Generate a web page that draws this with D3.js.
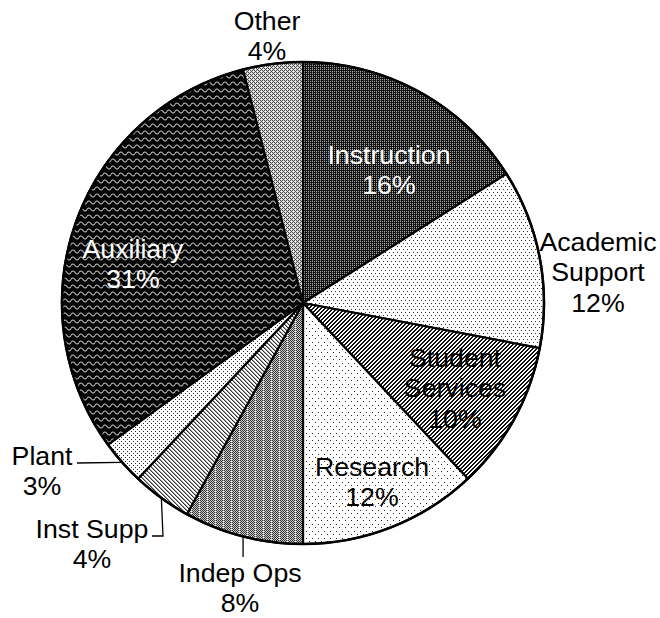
<!DOCTYPE html>
<html>
<head>
<meta charset="utf-8">
<script src="https://cdn.jsdelivr.net/npm/d3@7/dist/d3.min.js"></script>
<style>
  html, body { margin: 0; padding: 0; background: #fff; }
  svg { display: block; }
  text { font-family: "Liberation Sans", Arial, sans-serif; }
</style>
</head>
<body>
<svg id="chart" width="660" height="618"></svg>
<script>
// Expense categories, clockwise from 12 o'clock
const categories = ["Instruction", "Academic Support", "Student Services", "Research",
                    "Indep Ops", "Inst Supp", "Plant", "Auxiliary", "Other"];
// Share of total expenses, percent
const shares = [16, 12, 10, 12, 8, 4, 3, 31, 4];
// Label text lines for each slice
const labelNames = [["Instruction"], ["Academic", "Support"], ["Student", "Services"], ["Research"],
                    ["Indep Ops"], ["Inst Supp"], ["Plant"], ["Auxiliary"], ["Other"]];

const W = 660, H = 618;
const cx = 303, cy = 303, R = 241;
const fontSize = 26.7, lineH = 30.7;

const svg = d3.select("#chart");
const defs = svg.append("defs");

// Pixel tile patterns (monochrome fills)
function pixelPattern(id, w, h, bg, color, pixels) {
  const p = defs.append("pattern").attr("id", id)
    .attr("patternUnits", "userSpaceOnUse").attr("width", w).attr("height", h);
  p.append("rect").attr("width", w).attr("height", h).attr("fill", bg);
  pixels.forEach(([x, y, c]) => {
    p.append("rect").attr("x", x).attr("y", y).attr("width", 1).attr("height", 1)
      .attr("fill", c || color).attr("shape-rendering", "crispEdges");
  });
}

// Instruction: dark dotted weave
pixelPattern("pInstruction", 4, 4, "#111111", "#a8a8a8",
  [[1, 0], [3, 0], [1, 2], [3, 2], [1, 1, "#505050"]]);
// Academic Support: staggered dots
pixelPattern("pAcademic", 4, 6, "#ffffff", "#333333", [[0, 0], [2, 3]]);
// Student Services: wide "/" diagonal stripes
pixelPattern("pStudent", 4, 4, "#ffffff", "#111111",
  [[2, 0], [3, 0], [1, 1], [2, 1], [0, 2], [1, 2], [3, 3], [0, 3]]);
// Research: sparse dots
pixelPattern("pResearch", 6, 7, "#ffffff", "#2a2a2a", [[0, 0], [3, 4]]);
// Indep Ops: gray checker with dotted white columns
(function () {
  const px = [];
  for (let y = 0; y < 4; y++) for (let x = 0; x < 8; x++) {
    if (x === 0) { if (y % 2 === 0) px.push([x, y, "#ffffff"]); else px.push([x, y, "#9a9a9a"]); }
    else if ((x + y) % 2 === 0) px.push([x, y, "#2e2e2e"]);
  }
  pixelPattern("pIndep", 8, 4, "#cfcfcf", "#2e2e2e", px);
})();
// Inst Supp: "\" diagonal stripes
pixelPattern("pInstSupp", 4, 4, "#ffffff", "#333333",
  [[0, 0], [1, 1], [2, 2], [3, 3], [1, 0, "#a0a0a0"], [2, 1, "#a0a0a0"], [3, 2, "#a0a0a0"], [0, 3, "#a0a0a0"]]);
// Plant: dense dots
pixelPattern("pPlant", 4, 4, "#ffffff", "#2a2a2a", [[0, 0], [2, 2]]);
// Other: diamond lattice
pixelPattern("pOther", 4, 4, "#d6d6d6", "#4a4a4a",
  [[0, 0], [1, 1], [2, 2], [3, 3], [1, 3], [3, 1], [2, 0, "#ffffff"], [0, 2, "#ffffff"]]);
// Auxiliary: black with light wavy lines
(function () {
  const p = defs.append("pattern").attr("id", "pAux")
    .attr("patternUnits", "userSpaceOnUse").attr("width", 8).attr("height", 7);
  p.append("rect").attr("width", 8).attr("height", 7).attr("fill", "#050505");
  p.append("path").attr("d", "M0 4.5 Q2 1.5 4 4.5 T8 4.5")
    .attr("fill", "none").attr("stroke", "#c8c8c8").attr("stroke-width", 1.1);
})();

const fills = ["pInstruction", "pAcademic", "pStudent", "pResearch", "pIndep",
               "pInstSupp", "pPlant", "pAux", "pOther"];

// Label placement: centre of the first text line, text colour, leader path points (label side)
const labelLayout = {
  "Instruction":      { x: 389, y: 154, color: "#fff" },
  "Academic Support": { x: 598, y: 241, color: "#000" },
  "Student Services": { x: 455, y: 357, color: "#000" },
  "Research":         { x: 372, y: 466, color: "#000" },
  "Indep Ops":        { x: 240, y: 572, color: "#000", leader: "down", ly: 557 },
  "Inst Supp":        { x: 92,  y: 528, color: "#000", leader: "elbow", lx: 152, ly: 536, ex: 163 },
  "Plant":            { x: 42,  y: 455, color: "#000", leader: "side", lx: 77, ly: 463 },
  "Auxiliary":        { x: 133, y: 248, color: "#fff" },
  "Other":            { x: 267, y: 20,  color: "#000" }
};

const data = categories.map((c, i) => ({ name: c, value: shares[i], fill: fills[i], lines: labelNames[i] }));

const pie = d3.pie().sort(null).value(d => d.value).startAngle(0).endAngle(2 * Math.PI);
const arc = d3.arc().innerRadius(0).outerRadius(R);
const arcs = pie(data);

const g = svg.append("g").attr("transform", `translate(${cx},${cy})`);

g.selectAll("path.slice").data(arcs).join("path")
  .attr("class", "slice")
  .attr("d", arc)
  .attr("fill", d => `url(#${d.data.fill})`)
  .attr("stroke", "#000")
  .attr("stroke-width", 2.2)
  .attr("stroke-linejoin", "round");

// Outer rim
g.append("circle").attr("r", R).attr("fill", "none").attr("stroke", "#000").attr("stroke-width", 2.5);

// Point on the rim at a slice's mid angle (page coordinates)
function rimPoint(d) {
  const a = (d.startAngle + d.endAngle) / 2;
  return [cx + R * Math.sin(a), cy - R * Math.cos(a)];
}

// Leader lines
const leaderLine = d3.line();
arcs.forEach(d => {
  const L = labelLayout[d.data.name];
  if (!L.leader) return;
  const [rx, ry] = rimPoint(d);
  let pts;
  if (L.leader === "down") pts = [[rx, ry], [rx, L.ly]];
  else if (L.leader === "elbow") pts = [[L.lx, L.ly], [L.ex, L.ly], [rx, ry]];
  else pts = [[L.lx, L.ly], [rx, ry]];
  svg.append("path").attr("d", leaderLine(pts))
    .attr("fill", "none").attr("stroke", "#000").attr("stroke-width", 1.3);
});

// Labels: name lines followed by percentage
arcs.forEach(d => {
  const L = labelLayout[d.data.name];
  const lines = d.data.lines.concat([`${d.data.value}%`]);
  const t = svg.append("text")
    .attr("text-anchor", "middle")
    .attr("font-size", fontSize)
    .attr("fill", L.color);
  lines.forEach((s, i) => {
    t.append("tspan").attr("x", L.x).attr("y", L.y + i * lineH + 0.358 * fontSize).text(s);
  });
});
</script>
</body>
</html>
